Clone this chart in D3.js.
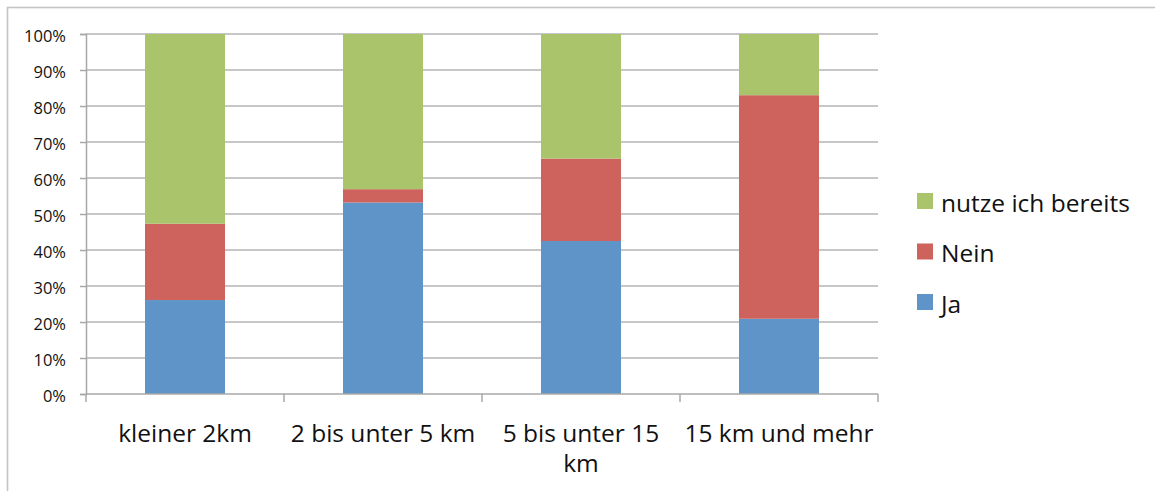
<!DOCTYPE html>
<html>
<head>
<meta charset="utf-8">
<script src="https://cdn.jsdelivr.net/npm/d3@7/dist/d3.min.js"></script>
<style>
  html, body { margin: 0; padding: 0; background: #fff; }
  svg { display: block; }
  text { font-family: "Open Sans", Lato, sans-serif; fill: #111; }
</style>
</head>
<body>
<svg id="chart" width="1155" height="491"></svg>
<script>
// ---- data ----
const categories = ["kleiner 2km", "2 bis unter 5 km", "5 bis unter 15 km", "15 km und mehr"];
const categoryLabels = ["kleiner 2km", "2 bis unter 5 km", "5 bis unter 15\nkm", "15 km und mehr"];
const seriesNames = ["Ja", "Nein", "nutze ich bereits"];
const ja = [0.261, 0.532, 0.425, 0.209];
const nein = [0.212, 0.037, 0.229, 0.621];
const nutze = [0.527, 0.431, 0.346, 0.170];
const seriesColors = ["#5E94C8", "#CD635C", "#AAC46C"];
const yTicks = [0, 0.1, 0.2, 0.3, 0.4, 0.5, 0.6, 0.7, 0.8, 0.9, 1.0];

// ---- layout ----
const svg = d3.select("#chart");
const plot = { left: 86, right: 878, top: 34, bottom: 394 };

svg.append("rect").attr("width", 1155).attr("height", 491).attr("fill", "#fff");
// outer chart border (runs off the right and bottom of the picture)
svg.append("rect")
  .attr("x", 7.5).attr("y", 7.5).attr("width", 1200).attr("height", 600)
  .attr("fill", "none").attr("stroke", "#c4c4c4").attr("stroke-width", 1.6);

const x = d3.scaleBand().domain(categories).range([plot.left, plot.right])
  .paddingInner(0.596).paddingOuter(0.298);
const y = d3.scaleLinear().domain([0, 1]).range([plot.bottom, plot.top]);

// gridlines
svg.append("g").selectAll("line").data(yTicks.filter(d => d > 0)).join("line")
  .attr("x1", plot.left).attr("x2", plot.right)
  .attr("y1", d => y(d)).attr("y2", d => y(d))
  .attr("stroke", "#b4b4b4").attr("stroke-width", 1.5);

// stacked data
const rows = categories.map((c, i) => ({ cat: c, "Ja": ja[i], "Nein": nein[i], "nutze ich bereits": nutze[i] }));
const stack = d3.stack().keys(seriesNames)(rows);

svg.append("g").selectAll("g").data(stack).join("g")
  .attr("fill", (d, i) => seriesColors[i])
  .selectAll("rect").data(d => d).join("rect")
  .attr("x", d => x(d.data.cat))
  .attr("width", x.bandwidth())
  .attr("y", d => y(d[1]))
  .attr("height", d => y(d[0]) - y(d[1]));

// y axis
const yAxis = d3.axisLeft(y).tickValues(yTicks).tickFormat(d3.format(".0%")).tickSize(6).tickPadding(14);
const gy = svg.append("g").attr("transform", `translate(${plot.left},0)`).call(yAxis);
gy.select(".domain").attr("stroke", "#a8a8a8").attr("stroke-width", 1.5);
gy.selectAll(".tick line").attr("stroke", "#a8a8a8").attr("stroke-width", 1.5);
gy.selectAll(".tick text").attr("font-size", 16.5).attr("font-family", "'Open Sans', sans-serif")
  .attr("fill", "#111").attr("dy", "0.62em").attr("y", -3);

// x axis (line + boundary ticks)
const gx = svg.append("g");
gx.append("line").attr("x1", plot.left).attr("x2", plot.right)
  .attr("y1", plot.bottom).attr("y2", plot.bottom)
  .attr("stroke", "#a8a8a8").attr("stroke-width", 1.5);
const boundaries = categories.map(c => x(c) - x.step() * x.paddingInner() / 2).concat([plot.right]);
boundaries[0] = plot.left;
gx.selectAll("line.tk").data(boundaries).join("line").attr("class", "tk")
  .attr("x1", d => d).attr("x2", d => d)
  .attr("y1", plot.bottom).attr("y2", plot.bottom + 8)
  .attr("stroke", "#a8a8a8").attr("stroke-width", 1.5);

// x labels
const xl = gx.selectAll("text.xl").data(categories).join("text").attr("class", "xl")
  .attr("text-anchor", "middle").attr("font-size", 24.5)
  .attr("transform", d => `translate(${x(d) + x.bandwidth() / 2},441.5)`);
xl.each(function(d, i) {
  const lines = categoryLabels[i].split("\n");
  d3.select(this).selectAll("tspan").data(lines).join("tspan")
    .attr("x", 0).attr("dy", (l, j) => j === 0 ? 0 : 30.5).text(l => l);
});

// legend
const legendOrder = ["nutze ich bereits", "Nein", "Ja"];
const lg = svg.append("g").selectAll("g").data(legendOrder).join("g")
  .attr("transform", (d, i) => `translate(917,${193 + i * 50.5})`);
lg.append("rect").attr("width", 16).attr("height", 16)
  .attr("fill", d => seriesColors[seriesNames.indexOf(d)]);
lg.append("text").attr("x", 24).attr("y", 18.5).attr("font-size", 24.5).text(d => d);
</script>
</body>
</html>
